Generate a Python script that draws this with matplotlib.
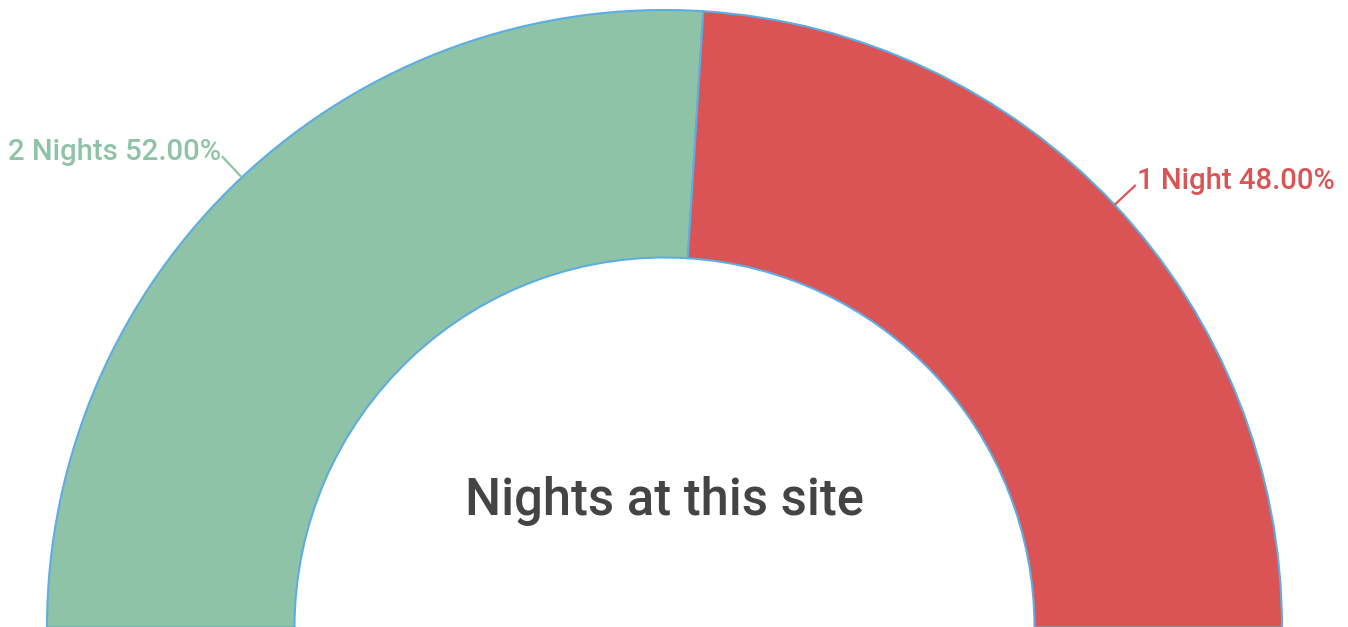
import numpy as np
import matplotlib
matplotlib.use("Agg")
import matplotlib.pyplot as plt

categories = ["2 Nights", "1 Night"]
values = [52.0, 48.0]
colors = ["#8EC3A7", "#DB5455"]
title = "Nights at this site"

W, H = 1348, 627
fig = plt.figure(figsize=(W / 100, H / 100), dpi=100)
ax = fig.add_axes([0, 0, 1, 1])

cx, cy = 664.5, -0.5
R_out, ring = 617.5, 247.5
total = sum(values)

wedges, _ = ax.pie(values + [total], colors=colors + ["none"], startangle=180,
                   counterclock=False, radius=R_out, center=(cx, cy),
                   wedgeprops=dict(width=ring, edgecolor="#5DADE2", linewidth=1.5))
wedges[-1].set_edgecolor("none")
wedges[-1].set_facecolor("none")

ax.set_aspect("equal")
ax.set_xlim(0, W)
ax.set_ylim(0, H)
ax.axis("off")

# labels with leader lines
start = 180.0
for cat, v, col in zip(categories, values, colors):
    span = 180.0 * v / total
    mid = np.deg2rad(start - span / 2)
    start -= span
    x0, y0 = cx + R_out * np.cos(mid), cy + R_out * np.sin(mid)
    x1, y1 = cx + (R_out + 29) * np.cos(mid), cy + (R_out + 29) * np.sin(mid)
    ax.plot([x0, x1], [y0, y1], color=col, lw=1.6, solid_capstyle="butt")
    right = np.cos(mid) >= 0
    ax.text(x1 + (1 if right else -1), y1 + 4, f"{cat} {v:.2f}%",
            ha="left" if right else "right", va="center", color=col,
            fontsize=21.1, family="Roboto", fontweight="medium")

ax.text(cx, H - 515, title, ha="center", va="baseline", color="#444444",
        fontsize=36.5, family="Roboto", fontweight="medium")

fig.savefig("out.png", dpi=100)
